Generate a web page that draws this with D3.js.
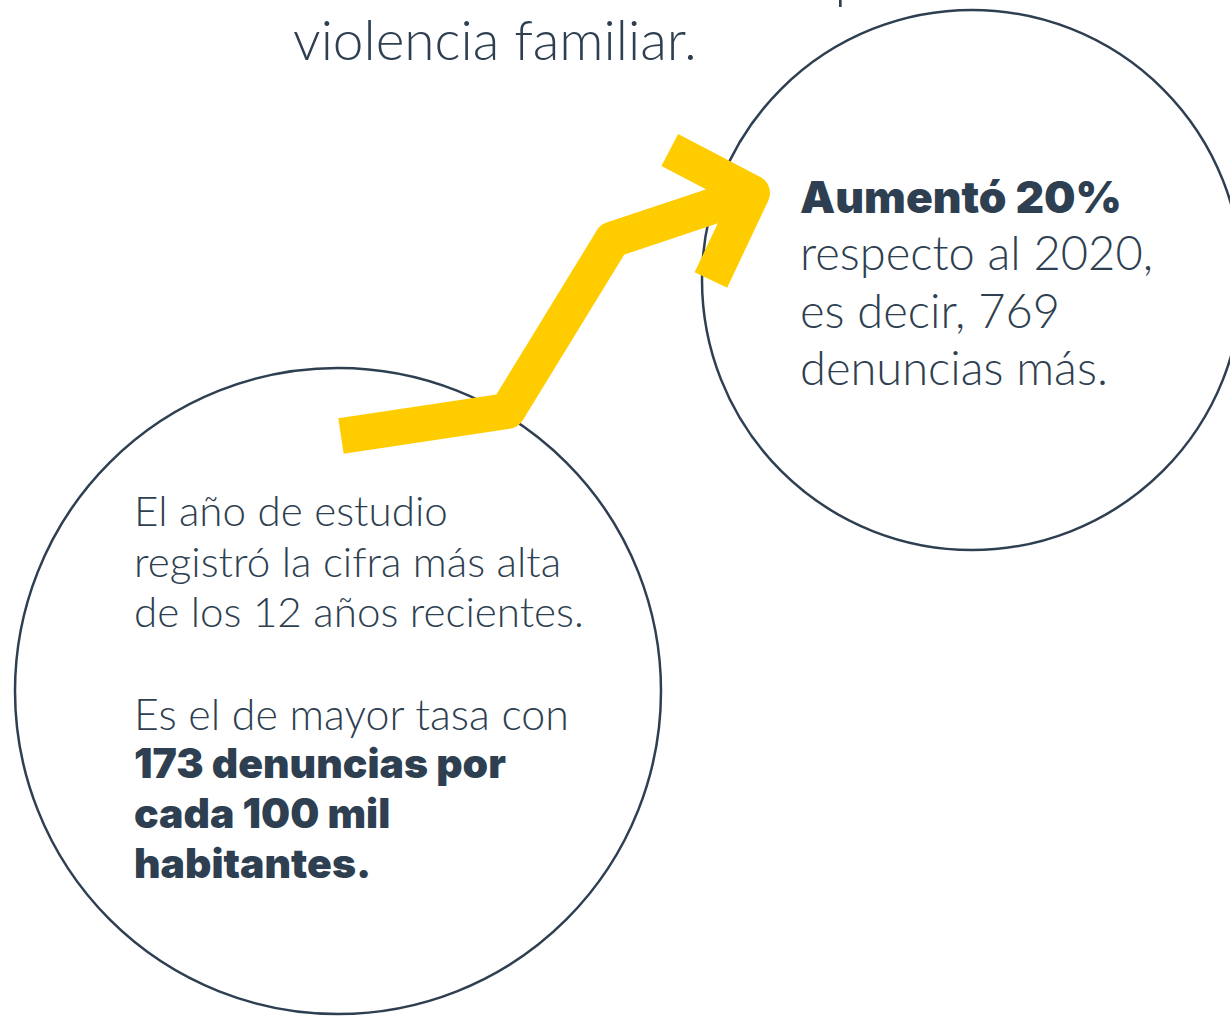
<!DOCTYPE html>
<html>
<head>
<meta charset="utf-8">
<script src="https://cdn.jsdelivr.net/npm/d3@7"></script>
<style>
  body{margin:0;background:#fff;}
  svg{display:block;}
</style>
</head>
<body>
<div id="chart"></div>
<script>
// text blocks
const headLines = ['Se incrementaron las denuncias por', 'violencia familiar.']
const rightBold = ['Aumentó 20%']
const rightLines = ['respecto al 2020,', 'es decir, 769', 'denuncias más.']
const leftLines = ['El año de estudio', 'registró la cifra más alta', 'de los 12 años recientes.']
const leftLines2 = ['Es el de mayor tasa con']
const leftBold = ['173 denuncias por', 'cada 100 mil', 'habitantes.']

// trend arrow steps (relative units: step, level)
const arrowSteps = [0, 0.405, 0.66, 1]
const arrowLevels = [0, 0.103, 0.808, 1]
const headArms = [[0.8, 1.177], [1, 1], [0.9, 0.642]]

const width = 1230, height = 1016
const ink = '#2e3f51', yellow = '#ffcc00'

const svg = d3.select('#chart').append('svg')
  .attr('width', width)
  .attr('height', height)

svg.append('rect').attr('width', width).attr('height', height).attr('fill', '#fff')

// circles
const circles = [
  {cx: 338, cy: 691, r: 323},
  {cx: 972, cy: 280, r: 270}
]
svg.selectAll('circle.bubble')
  .data(circles)
  .join('circle')
  .attr('class', 'bubble')
  .attr('cx', d => d.cx)
  .attr('cy', d => d.cy)
  .attr('r', d => d.r)
  .attr('fill', 'none')
  .attr('stroke', ink)
  .attr('stroke-width', 2.5)

// arrow
const xScale = d3.scaleLinear().domain([0, 1]).range([341, 752])
const yScale = d3.scaleLinear().domain([0, 1]).range([436, 193])

const line = d3.line()
  .x(d => xScale(d[0]))
  .y(d => yScale(d[1]))

svg.append('path')
  .datum(arrowSteps.map((s, i) => [s, arrowLevels[i]]))
  .attr('d', line)
  .attr('fill', 'none')
  .attr('stroke', yellow)
  .attr('stroke-width', 36)
  .attr('stroke-linejoin', 'round')

svg.append('path')
  .datum(headArms)
  .attr('d', line)
  .attr('fill', 'none')
  .attr('stroke', yellow)
  .attr('stroke-width', 36)
  .attr('stroke-linejoin', 'round')

// text helper: fit font size so a reference line hits a target width
function block(lines, x, y0, step, opts){
  const g = svg.append('g')
  const t = g.selectAll('text')
    .data(lines)
    .join('text')
    .attr('x', x)
    .attr('y', (d, i) => y0 + i * step)
    .attr('fill', ink)
    .attr('font-family', opts.family)
    .attr('font-weight', opts.weight)
    .attr('font-size', 100)
    .attr('text-anchor', opts.anchor || 'start')
    .text(d => d)
  const w = t.nodes()[opts.fit[0]].getComputedTextLength()
  t.attr('font-size', 100 * opts.fit[1] / w)
  return t
}

const light = {family: 'Lato, "Open Sans", sans-serif', weight: 300}
const heavy = {family: 'Inter, Lato, sans-serif', weight: 900}

block(headLines, 495, -3, 63, {...light, anchor: 'middle', fit: [1, 404]})
block(rightBold, 800, 213, 57.5, {...heavy, fit: [0, 322]})
block(rightLines, 800, 270, 57.5, {...light, fit: [0, 353]})
block(leftLines, 134, 526, 50.5, {...light, fit: [2, 450]})
block(leftLines2, 134, 730, 50, {...light, fit: [0, 435]})
block(leftBold, 134, 778, 50, {...heavy, fit: [0, 372]})
</script>
</body>
</html>
